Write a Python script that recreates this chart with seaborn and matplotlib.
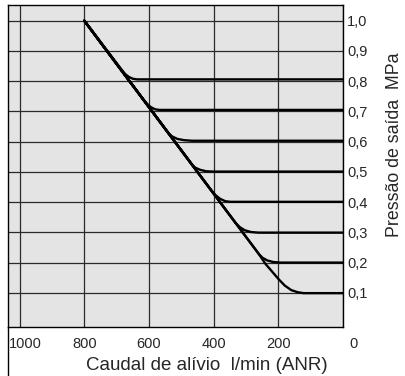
import matplotlib
matplotlib.use("Agg")
import matplotlib.pyplot as plt
import matplotlib.transforms as mtransforms
from matplotlib.lines import Line2D
import seaborn as sns
import pandas as pd

# ================= Data =================
# flow in l/min (ANR), pressure in MPa; each curve starts at (800, 1.0)
FLOW_08 = [800, 684, 673, 662, 650, 637, 0]
PRES_08 = [1.0, 0.837, 0.823, 0.814, 0.808, 0.806, 0.806]
FLOW_07 = [800, 618, 606, 594, 581, 568, 0]
PRES_07 = [1.0, 0.740, 0.725, 0.714, 0.707, 0.705, 0.705]
FLOW_06 = [800, 539, 528, 512, 492, 467, 0]
PRES_06 = [1.0, 0.627, 0.617, 0.609, 0.605, 0.603, 0.603]
FLOW_05 = [800, 467, 457, 442, 423, 400, 0]
PRES_05 = [1.0, 0.524, 0.514, 0.507, 0.502, 0.501, 0.501]
FLOW_04 = [800, 408, 394, 380, 364, 348, 0]
PRES_04 = [1.0, 0.440, 0.423, 0.411, 0.403, 0.401, 0.401]
FLOW_03 = [800, 333, 320, 304, 284, 261, 0]
PRES_03 = [1.0, 0.332, 0.318, 0.307, 0.301, 0.299, 0.299]
FLOW_02 = [800, 260, 249, 234, 216, 194, 0]
PRES_02 = [1.0, 0.228, 0.216, 0.207, 0.202, 0.200, 0.200]
FLOW_01 = [800, 260, 240, 219, 199, 180, 160, 140, 122, 0]
PRES_01 = [1.0, 0.228, 0.196, 0.170, 0.145, 0.124, 0.109, 0.102, 0.099, 0.099]

X_TICKS = [1000, 800, 600, 400, 200, 0]
X_TICK_LABELS = ["1000", "800", "600", "400", "200", "0"]
Y_TICKS = [0.1, 0.2, 0.3, 0.4, 0.5, 0.6, 0.7, 0.8, 0.9, 1.0]
Y_TICK_LABELS = ["0,1", "0,2", "0,3", "0,4", "0,5", "0,6", "0,7", "0,8", "0,9", "1,0"]

X_LABEL = "Caudal de alívio  l/min (ANR)"
Y_LABEL = "Pressão de saída  MPa"

# ================= Style =================
sns.set_style("white")
plt.rcParams["font.family"] = ["Liberation Sans", "DejaVu Sans"]

W, H = 406, 376
BG = "#e4e4e4"
GRID = "#2a2a2a"


def build_frame():
    curves = [
        ("0.8", FLOW_08, PRES_08), ("0.7", FLOW_07, PRES_07),
        ("0.6", FLOW_06, PRES_06), ("0.5", FLOW_05, PRES_05),
        ("0.4", FLOW_04, PRES_04), ("0.3", FLOW_03, PRES_03),
        ("0.2", FLOW_02, PRES_02), ("0.1", FLOW_01, PRES_01),
    ]
    rows = []
    for name, fl, pr in curves:
        for q, p in zip(fl, pr):
            rows.append({"curve": name, "flow": q, "pressure": p})
    return pd.DataFrame(rows)


def main():
    df = build_frame()

    fig = plt.figure(figsize=(W / 100, H / 100), dpi=100)
    left, right, top, bottom = 8, 343, 5, 327
    ax = fig.add_axes([left / W, 1 - bottom / H, (right - left) / W, (bottom - top) / H])
    ax.set_facecolor(BG)

    sns.lineplot(data=df, x="flow", y="pressure", units="curve", estimator=None,
                 sort=False, color="black", linewidth=1.7, ax=ax, legend=False)

    ax.set_xlim(1036, 0)
    ax.set_ylim(-0.013, 1.052)

    ax.set_xticks(X_TICKS)
    ax.set_xticklabels(X_TICK_LABELS, fontsize=10.5)
    ax.set_yticks(Y_TICKS)
    ax.set_yticklabels(Y_TICK_LABELS, fontsize=10.5)
    ax.yaxis.tick_right()
    ax.tick_params(axis="both", length=0)
    ax.tick_params(axis="x", pad=7)
    ax.tick_params(axis="y", pad=3)

    # end labels sit a bit right of their grid lines in the reference
    for lab in ax.get_xticklabels():
        if lab.get_text() == "1000":
            lab.set_transform(lab.get_transform() + mtransforms.ScaledTranslation(0.06, 0, fig.dpi_scale_trans))
        elif lab.get_text() == "0":
            lab.set_transform(lab.get_transform() + mtransforms.ScaledTranslation(0.11, 0, fig.dpi_scale_trans))

    ax.grid(True, color=GRID, linewidth=0.9)
    ax.set_axisbelow(True)
    ax.set_xlabel("")
    ax.set_ylabel("")

    for sp in ax.spines.values():
        sp.set_visible(True)
        sp.set_color("black")
        sp.set_linewidth(1.0)

    # left border runs down to the bottom of the figure
    fig.add_artist(Line2D([left / W, left / W], [0, 1 - bottom / H], color="black", linewidth=1.0))

    fig.text(207 / W, 1 - 365 / H, X_LABEL, ha="center", va="center", fontsize=13.5)
    fig.text(395 / W, 1 - 145 / H, Y_LABEL, ha="center", va="center", rotation=90, fontsize=12.8)

    fig.savefig("out.png", dpi=100, facecolor="white")
    plt.close(fig)


if __name__ == "__main__":
    main()
